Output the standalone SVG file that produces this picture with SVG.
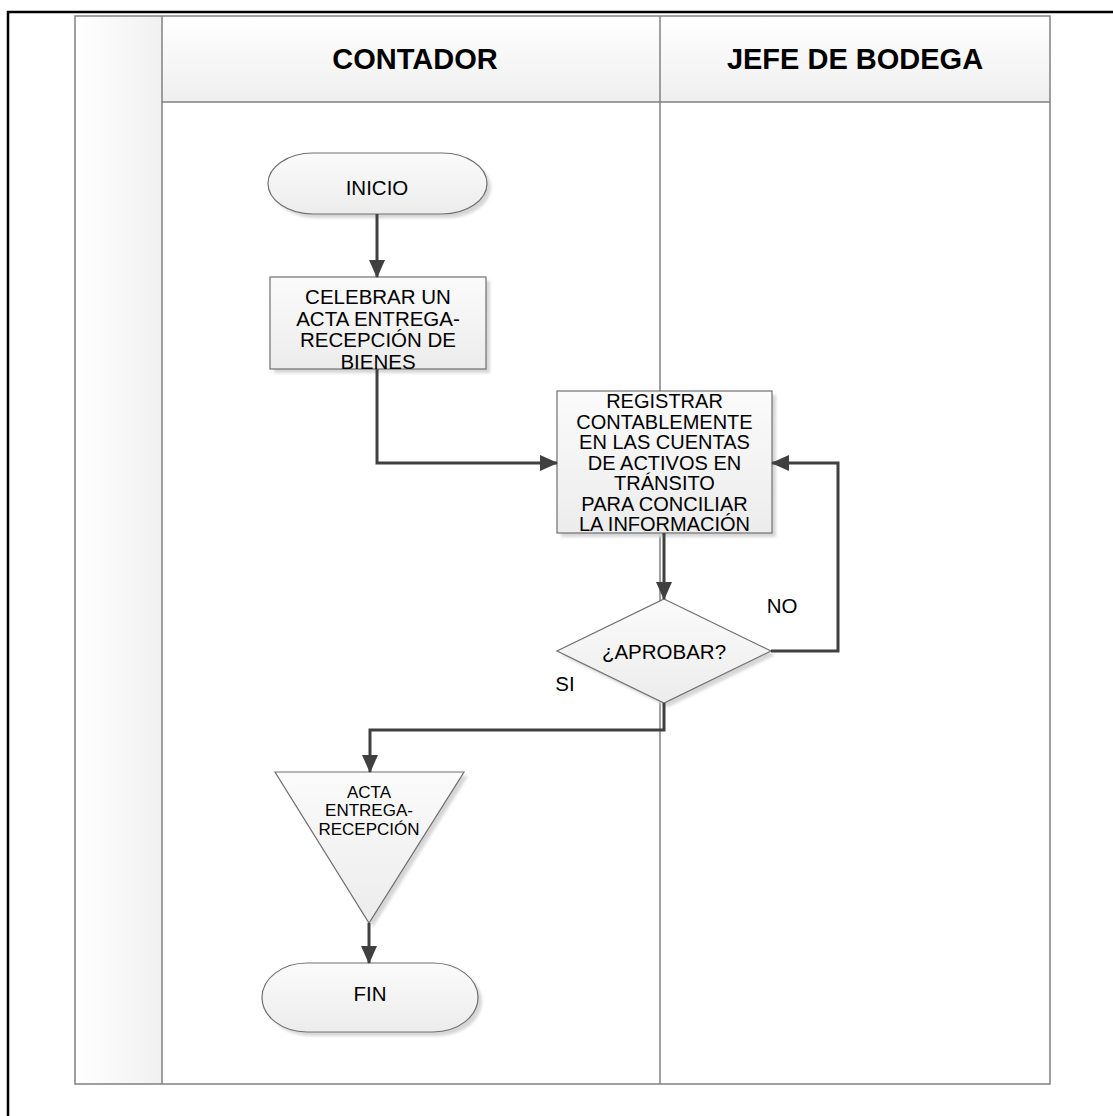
<svg xmlns="http://www.w3.org/2000/svg" width="1113" height="1116" viewBox="0 0 1113 1116">
  <style>
    .lane { fill: none; stroke: #808080; stroke-width: 1.5; }
    .shape { fill: url(#shapeFill); stroke: #707070; stroke-width: 1.2; }
    .shadow { fill: #d6d6d6; }
    .lbl { font-family: "Liberation Sans", Arial, sans-serif; font-size: 20.5px; fill: #000; text-anchor: middle; }
    .tight { font-size: 20px; }
    .small { font-size: 17px; }
    .head { font-family: "Liberation Sans", Arial, sans-serif; font-size: 29px; font-weight: bold; fill: #000; text-anchor: middle; }
    .conn { fill: none; stroke: #404040; stroke-width: 3; }
  </style>
  <defs>
    <linearGradient id="shapeFill" x1="0" y1="0" x2="0" y2="1">
      <stop offset="0" stop-color="#fbfbfb"/>
      <stop offset="1" stop-color="#ececec"/>
    </linearGradient>
    <linearGradient id="headFill" x1="0" y1="0" x2="0" y2="1">
      <stop offset="0" stop-color="#ffffff"/>
      <stop offset="1" stop-color="#efefef"/>
    </linearGradient>
    <linearGradient id="sideFill" x1="0" y1="0" x2="1" y2="0">
      <stop offset="0" stop-color="#ffffff"/>
      <stop offset="1" stop-color="#f1f1f1"/>
    </linearGradient>
    <filter id="soft" x="-10%" y="-10%" width="130%" height="130%">
      <feGaussianBlur stdDeviation="1.5"/>
    </filter>
    <marker id="arrow" markerUnits="userSpaceOnUse" markerWidth="18" markerHeight="16" refX="17" refY="8" orient="auto">
      <path d="M0,0 L18,8 L0,16 Z" fill="#404040"/>
    </marker>
  </defs>

  <rect width="1113" height="1116" fill="#ffffff"/>

  <!-- page frame -->
  <rect x="8" y="12" width="1120" height="1120" fill="none" stroke="#000" stroke-width="2.5"/>

  <!-- swimlane pool -->
  <g id="pool">
    <rect x="75" y="16" width="87" height="1068" fill="url(#sideFill)"/>
    <rect x="162" y="16" width="888" height="86" fill="url(#headFill)"/>
    <rect x="75" y="16" width="975" height="1068" class="lane"/>
    <line x1="162" y1="16" x2="162" y2="1084" class="lane"/>
    <line x1="660" y1="16" x2="660" y2="1084" class="lane"/>
    <line x1="162" y1="102" x2="1050" y2="102" class="lane"/>
    <text class="head" x="415" y="69">CONTADOR</text>
    <text class="head" x="855" y="69">JEFE DE BODEGA</text>
  </g>

  <!-- start -->
  <g id="inicio">
    <path class="shadow" filter="url(#soft)" transform="translate(4,4)" d="M313,153 H442 A45,30.5 0 0 1 442,214 H313 A45,30.5 0 0 1 313,153 Z"/>
    <path class="shape" d="M313,153 H442 A45,30.5 0 0 1 442,214 H313 A45,30.5 0 0 1 313,153 Z"/>
    <text class="lbl" x="377" y="195">INICIO</text>
  </g>

  <!-- first task -->
  <g id="celebrar">
    <rect class="shadow" filter="url(#soft)" x="274" y="281" width="216" height="92"/>
    <rect class="shape" x="270" y="277" width="216" height="92"/>
    <text class="lbl" x="378" y="304">CELEBRAR UN</text>
    <text class="lbl" x="378" y="325.5">ACTA ENTREGA-</text>
    <text class="lbl" x="378" y="347">RECEPCIÓN DE</text>
    <text class="lbl" x="378" y="368.5">BIENES</text>
  </g>

  <!-- accounting entry -->
  <g id="registrar">
    <rect class="shadow" filter="url(#soft)" x="561" y="395" width="215" height="142"/>
    <rect class="shape" x="557" y="391" width="215" height="142"/>
    <text class="lbl tight" x="664.5" y="408">REGISTRAR</text>
    <text class="lbl tight" x="664.5" y="428.5">CONTABLEMENTE</text>
    <text class="lbl tight" x="664.5" y="449">EN LAS CUENTAS</text>
    <text class="lbl tight" x="664.5" y="469.5">DE ACTIVOS EN</text>
    <text class="lbl tight" x="664.5" y="490">TRÁNSITO</text>
    <text class="lbl tight" x="664.5" y="510.5">PARA CONCILIAR</text>
    <text class="lbl tight" x="664.5" y="531">LA INFORMACIÓN</text>
  </g>

  <!-- decision -->
  <g id="aprobar">
    <path class="shadow" filter="url(#soft)" transform="translate(4,4)" d="M664,599 L771,651 L664,703 L557,651 Z"/>
    <path class="shape" d="M664,599 L771,651 L664,703 L557,651 Z"/>
    <text class="lbl" x="664" y="659">¿APROBAR?</text>
  </g>

  <!-- document store -->
  <g id="acta">
    <path class="shadow" filter="url(#soft)" transform="translate(4,4)" d="M275,772 L464,772 L369,923 Z"/>
    <path class="shape" d="M275,772 L464,772 L369,923 Z"/>
    <text class="lbl small" x="369" y="798">ACTA</text>
    <text class="lbl small" x="369" y="816">ENTREGA-</text>
    <text class="lbl small" x="369" y="835">RECEPCIÓN</text>
  </g>

  <!-- end -->
  <g id="fin">
    <path class="shadow" filter="url(#soft)" transform="translate(4,4)" d="M307,963 H433 A45,34.5 0 0 1 433,1032 H307 A45,34.5 0 0 1 307,963 Z"/>
    <path class="shape" d="M307,963 H433 A45,34.5 0 0 1 433,1032 H307 A45,34.5 0 0 1 307,963 Z"/>
    <text class="lbl" x="370" y="1001">FIN</text>
  </g>

  <!-- connectors -->
  <g id="connectors">
    <path class="conn" marker-end="url(#arrow)" d="M377,214 V277"/>
    <path class="conn" marker-end="url(#arrow)" d="M377,369 V463 H557"/>
    <path class="conn" marker-end="url(#arrow)" d="M664,533 V599"/>
    <path class="conn" marker-end="url(#arrow)" d="M771,651 H838 V463 H772"/>
    <path class="conn" marker-end="url(#arrow)" d="M664,703 V730 H370 V772"/>
    <path class="conn" marker-end="url(#arrow)" d="M369,923 V963"/>
    <text class="lbl" x="782" y="613">NO</text>
    <text class="lbl" x="565" y="691">SI</text>
  </g>
</svg>
